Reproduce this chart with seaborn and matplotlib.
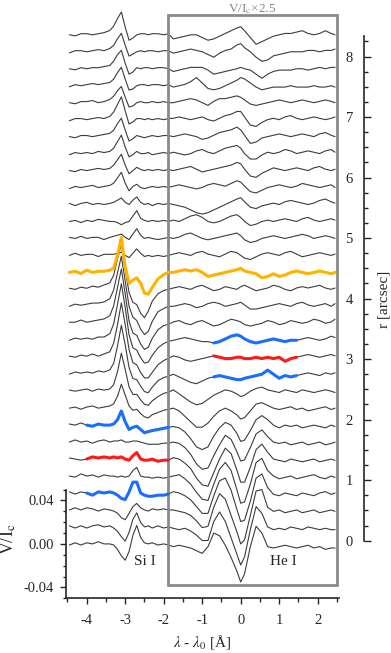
import matplotlib
matplotlib.use("Agg")
import matplotlib.pyplot as plt
from matplotlib.patches import Rectangle
from matplotlib.ticker import MultipleLocator, FixedLocator, FormatStrFormatter
import pandas as pd
import seaborn as sns

# wavelength samples, A from line centre
si_wave = [-4.45, -4.3, -4.15, -4.0, -3.85, -3.7, -3.55, -3.4, -3.3, -3.2, -3.1,
           -3.0, -2.9, -2.8, -2.7, -2.6, -2.5, -2.4, -2.3, -2.15, -2.0, -1.88]
he_wave = [-1.75, -1.6, -1.45, -1.3, -1.15, -1.0, -0.85, -0.7, -0.55, -0.4, -0.25,
           -0.1, 0.0, 0.1, 0.25, 0.4, 0.55, 0.7, 0.85, 1.0, 1.15, 1.3, 1.45, 1.6,
           1.75, 1.9, 2.05, 2.2, 2.35, 2.45]

# V/Ic x 1000, one row per slit position, from r ~ 0 (bottom) upwards
si_v = [
    [-1, 1, -1, 1, 0, 2, 0, 0, -1, -5, -11, -15, -7, 8, 17, 6, 1, 0, 1, -1, 0, -1],
    [1, -1, 1, -1, 1, 2, 0, 1, -1, -4, -9, -13, -5, 7, 13, 4, 0, 1, -1, 1, -1, 0],
    [0, 2, 0, 2, 1, -1, 1, 0, -1, -3, -7, -9, -3, 3, 6, 2, 0, -1, 1, 0, 1, 0],
    [1, -1, 1, 0, -2, 1, 0, 1, 0, -2, -5, -6, 1, 10, 10, 0, -2, -3, -3, -2, -2, -1],
    [0, -1, 2, 0, 1, -1, 1, 0, 0, -1, 0, -1, 0, 5, 8, 0, -1, -1, -2, -1, -2, -1],
    [1, 0, -1, 0, 2, 1, 2, 1, 2, 1, 2, 0, -1, 3, 6, 0, -1, -1, 0, -2, -1, -1],
    [0, 2, 0, 1, -1, 1, 2, 0, 1, 1, 2, 0, 0, 1, 1, 0, -1, -2, -2, -2, -1, -1],
    [1, 0, 2, 0, -1, 1, 0, 0, 1, 5, 13, 3, -4, -2, -1, -4, -7, -6, -5, -4, -3, -2],
    [0, 1, -1, 1, 2, 0, 1, 2, 4, 11, 22, 12, 2, -2, -1, -5, -8, -9, -6, -4, -2, -1],
    [1, 0, 1, 2, 0, 2, 1, 2, 6, 18, 35, 20, 4, -3, -3, -8, -12, -13, -9, -5, -2, -1],
    [0, 2, 1, 2, 1, 3, 2, 4, 10, 26, 45, 27, 6, -4, -5, -11, -16, -17, -12, -6, -3, -2],
    [1, 0, 2, 1, 3, 1, 3, 5, 13, 30, 50, 30, 7, -5, -7, -14, -19, -19, -14, -7, -3, -1],
    [0, 2, 1, 2, 1, 3, 3, 6, 15, 33, 52, 30, 5, -7, -9, -16, -21, -20, -14, -7, -3, -1],
    [1, 1, 3, 1, 2, 3, 4, 7, 16, 33, 50, 27, 2, -9, -11, -19, -24, -22, -14, -6, -2, -1],
    [0, 2, 1, 2, 3, 3, 4, 7, 15, 31, 46, 23, 0, -10, -13, -21, -26, -23, -14, -5, -2, 0],
    [1, 0, 2, 1, 3, 2, 4, 6, 13, 28, 42, 18, -3, -12, -14, -22, -26, -20, -11, -4, -1, 0],
    [0, 1, -1, 2, 0, 1, 1, 2, 4, 16, 32, 5, -10, -7, -5, -10, -19, -20, -14, -6, -2, 0],
    [0, 2, 0, 1, 1, -1, 1, 1, 1, 2, 3, 0, -2, 2, 6, 2, -1, 0, -1, 0, -1, 0],
    [1, 0, 2, 0, 1, 1, -1, 1, 2, 3, 4, 1, -1, 4, 9, 3, 0, 1, 0, -1, 0, 1],
    [0, 1, -1, 1, 0, 2, 1, 0, 0, -1, -3, -1, 0, 5, 10, 3, 1, 0, 1, 0, 1, 0],
    [1, -1, 1, 2, 0, 1, 0, 1, 2, 4, 6, 2, 0, 4, 7, 2, 0, 1, -1, 1, 0, 1],
    [-1, 1, 0, 1, 2, 0, 1, 2, 4, 9, 14, 4, -3, 1, 3, 0, -1, 0, 1, 0, 1, 0],
    [0, -1, 1, 0, 1, 2, 1, 2, 5, 10, 15, 5, -3, 0, 3, 1, 0, 1, 0, 1, 0, 1],
    [-1, 1, 0, 1, 0, 2, 1, 2, 5, 11, 17, 6, -3, -1, 2, 0, 0, 1, -1, 0, 1, 0],
    [0, -1, 1, 1, 0, 1, 2, 3, 6, 12, 17, 6, -4, -2, 1, 0, -1, 0, 1, 0, 1, 1],
    [-1, 1, 1, 0, 1, 2, 1, 3, 7, 14, 21, 8, -4, -2, 1, 1, 0, 1, 0, 1, 0, 1],
    [0, -1, 1, 1, 2, 0, 1, 3, 6, 11, 15, 5, -4, -3, 0, 1, 0, 0, 1, 0, 1, 0],
    [-1, 1, 0, 1, 2, 1, 2, 3, 6, 12, 17, 6, -4, -3, 0, 1, 1, 0, 1, 1, 0, 1],
    [0, -1, 1, 0, 1, 1, 2, 3, 7, 13, 17, 5, -5, -3, 1, 0, 1, 1, 0, 1, 1, 0],
    [-1, 1, 1, 0, 1, 2, 1, 3, 6, 12, 17, 6, -4, -2, 0, 1, 0, 1, 1, 0, 1, 1],
    [0, -1, 1, 1, 0, 1, 2, 4, 8, 15, 21, 7, -5, -3, 0, 1, 1, 0, 1, 1, 0, 1],
]

he_v = [
    [-1, -0.5, -1, -1.5, -2.5, -3.5, -1, 4, 3, -0.5, -5, -10, -14, -11, -1, 6.5, 4, -1, -1.5, -1, -0.5, -1, -1.5, -1, -0.5, -1.5, -1, -2, -1.5, -1.5],
    [-0.5, -1, -0.5, -1.5, -3, -5, -5, 2, 5.5, 2, -4, -10, -14, -11, -1, 7.5, 5, 0, -1, -0.5, -1, 0, -0.5, -1, 0, -0.5, -1, -0.5, -1, -1],
    [0, -0.5, -1, -2, -4, -6.5, -6, 1, 6, 4, -2, -8, -12.5, -11, -2, 7, 7.5, 1, -0.5, 0, -1, -0.5, 0, -1, -0.5, 0, -1, -0.5, 0, -0.5],
    [0.5, 0, -1, -2.5, -5, -7.5, -7.5, -1, 4.5, 5.5, 1, -6, -10.5, -10, -3, 5.5, 7, 2, -0.5, -1, 0, -0.5, -1, 0, -0.5, -1, 0, 0.5, -0.5, 0],
    [0, 0.5, -1, -3, -6, -8.5, -9, -3, 2.5, 5, 2, -5, -10, -9.5, -3, 5, 6.5, 2, 0, -1, -0.5, 0, -1, -0.5, 0, 0.5, -0.5, -1, 0, -0.5],
    [0.5, 0, -1.5, -3.5, -7, -9.5, -10, -5, 0, 4, 2, -4, -8.5, -8.5, -3, 3.5, 5.5, 2.5, 0, -0.5, -1, 0, -0.5, -1, -0.5, 0, -1, -0.5, 0, -0.5],
    [0, -0.5, -2, -4.5, -8, -10, -9.5, -5, -1, 2.5, 1, -3.5, -7, -6.5, -2, 3, 4.5, 2, 0, -0.5, 0, -1, -0.5, 0, -1, -0.5, 0, -1, -0.5, 0],
    [-0.5, -1, -2.5, -5, -8, -9, -8, -4, -1, 1, 0, -3, -6, -5.5, -2, 2, 3.5, 2, 0, -1, 0, -0.5, 0, -1, -0.5, 0, -0.5, -1, 0, -0.5],
    [0, -1, -3, -5, -7, -7, -5.5, -3, -1, 0, -1, -2.5, -4, -3.5, -1, 1.5, 2, 1, 0, -0.5, 0, 0.5, -0.5, 0, -1, -0.5, 0, 0.5, -0.5, 0],
    [0.5, -1, -2.5, -4, -5, -4.5, -3, -1.5, -0.5, 0.5, 0, -1, -2, -1.5, 0, 1, 1.5, 0.5, 0, -0.5, 0.5, 0, -0.5, 0.5, 0, -0.5, 0, 0.5, 0, -0.5],
    [0, -1, -2, -3, -3.5, -2.5, -1.5, -1, -0.5, -1, -1.5, -2, -2, -1.5, -1, -0.5, 0, 1.5, 0, -1.5, -0.5, -1, -0.5, 0, 0.5, 0, -0.5, 0.5, 0, 0.5],
    [0.5, 0, -1, -1.5, -1, -0.5, 0, 0.5, 0, -0.5, -0.5, 0, 0, -0.5, -0.5, 0, -0.5, 0, -0.5, 0, -1.5, -0.5, 0, 0.5, 1, 0.5, 0, 0.5, 1, 0.5],
    [0, 0.5, 1, 0.5, 0, -0.5, -0.5, -1, -0.5, 0.5, 1.5, 2, 1.5, 0.5, -0.5, -1, -0.5, 0, 0.5, 0, -0.5, 0, 0, 0.5, 1, 0.5, 0, 0.5, 1.5, 1],
    [0.5, 1, 0, -0.5, 0.5, 1, 0, -1, -0.5, 0.5, 1.5, 1, 0.5, -0.5, -1, -0.5, 0, 1, 0.5, -0.5, 0, 1, 0.5, 0, 0.5, 1.5, 1, 0, 0.5, 1.5],
    [0, 0.5, 1, 0.5, -0.5, 0, 1, 1.5, 1, 0, 0.5, 1, 1.5, 0.5, -1, -1, -0.5, 0, 0.5, 1, 0.5, 0, 1, 1.5, 0.5, 0, 0.5, 1, 0, 1],
    [0.5, 1, 0.5, 0, 1, 1.5, 0.5, -0.5, 0, 1, 0.5, 0, 1, 1.5, 0.5, -0.5, 0, 0.5, 1.5, 1, 0, -0.5, 0.5, 1, 0.5, 1, 1.5, 0.5, 0, 0.5],
    [0, 0.5, 1, 0.5, 1, 0, -1.5, -1, -0.5, 0, 0.5, 1, 1.5, 0.5, 0, -0.5, -2, -1.5, -0.5, -1.5, -1, 0, 0.5, 0, -0.5, 0, 0.5, 0, -0.5, 0],
    [0.5, 1, 0.5, 0, 1, 1.5, 0.5, 0, -0.5, 0.5, 1.5, 1, 0, -1, -1.5, -0.5, 0.5, 1, 0.5, 0, 1, 1.5, 0.5, -0.5, 0, 0.5, 1, 0.5, 0, 0.5],
    [0, 0.5, 1.5, 2, 1, 0, -0.5, 0, 0.5, 1, 1.5, 2, 1, -0.5, -1.5, -1, 0, 0.5, 1, 0.5, 0, 0.5, 1, 1.5, 1, 0, 0.5, 1, 0.5, 0],
    [0.5, 0, 1, 2, 2.5, 1.5, 0, -0.5, 0, 1, 2, 2.5, 1.5, 0, -1.5, -1, 0, 0.5, 0, 0.5, 1, 0.5, 0, 1, 1.5, 0.5, 0, 0.5, 1, 0.5],
    [0, -0.5, -1, -2, -3, -3.5, -3, -2, -1, 0, 1, 2, 2.5, 1, -1, -1.5, -0.5, 0, 0.5, 0, 1, 1.5, 1, 0.5, 0, 0.5, 1.5, 2, 1, 0.5],
    [0.5, 1, 0.5, 0, -0.5, 0, 1, 1.5, 1, 0.5, 1.5, 2.5, 2, 0.5, -1.5, -2, -1, 0, 0.5, 1, 0.5, 0, 0.5, 1.5, 1, 0.5, 0, 0.5, 1, 0],
    [0, 0.5, 1, 1.5, 0.5, -0.5, 0, 0.5, 1, 1.5, 2, 3, 2.5, 0.5, -2, -2.5, -1, 0, 1, 0.5, 0, 0.5, 1, 0.5, 0, 1, 1.5, 0.5, 0, 0.5],
    [0.5, 0, -0.5, 0, 1, 1.5, 0.5, 0, 1, 2, 2.5, 3, 2, 0, -2, -2, -0.5, 0.5, 0, 0.5, 1.5, 1, 0, 0.5, 1, 0.5, 0, 1, 1.5, 0.5],
    [0, 0.5, 1, 0.5, 0, -1, -0.5, 0.5, 1.5, 2, 2.5, 3.5, 2.5, 0.5, -2.5, -2, -0.5, 0, 0.5, 1, 0.5, 0, 0.5, 1, 0.5, 0, 1, 1.5, 0.5, 0],
    [0.5, 1, 0.5, 0, 0.5, 1, 0, -0.5, 0.5, 1.5, 2, 3, 3, 1, -2, -2.5, -1, 0, 0.5, 0, 1, 1.5, 0.5, 0, 0.5, 1, 0.5, 0, 0.5, 1],
    [0, 0.5, 1, 1.5, 1, 0, -1, 0.5, 1.5, 1.5, 2, 2.5, 2, 1, -0.5, -1, -0.5, 0, 0.5, 1, 0.5, 0, 0.5, 1, 0.5, 0, 0.5, 1, 0.5, 0],
    [-0.5, 0, 0.5, 1.5, 3, 1, -1, -1.5, -1, 0, 1, 2, 3, 2.5, 1, -0.5, -1.5, -1, -0.5, -0.5, -0.5, 0, -0.5, -0.5, -0.5, 0, -0.5, -0.5, 0, -0.5],
    [-1, -0.5, 0, 0.5, 0.5, 0.5, -0.5, -2, -1.5, -1, -0.5, 0, 0.5, 0, -0.5, -2, -3.5, -2, -1, -0.5, -0.5, -0.5, 0, 0, -0.5, 0, 0.5, 0, 0.5, 0.5],
    [-0.5, 0, 0.5, 1, 0.5, 0, -1, -2, -0.5, 0.5, 1, 2.5, 3, 1.5, 0, -2, -3.5, -3, -1.5, -1, -0.5, 0, 0, 0, 0.5, 0.5, 0, 0.5, 0.5, 1],
    [-1.5, -1, -0.5, 0, 0, -1, -2, -1.5, -0.5, 0.5, 1.5, 2.5, 3, 1.5, -1, -3.5, -2.5, -1.5, -0.5, 0, 0.5, 0.5, 1, 1.5, 0.5, 0, 0.5, 1.5, 0.5, 0],
]

r_ticks = [0, 1, 2, 3, 4, 5, 6, 7, 8]
r_minor = [k / 4 for k in range(1, 34) if k % 4]
v_ticks = [-0.04, 0.0, 0.04]
v_minor = [-0.05, -0.03, -0.02, -0.01, 0.01, 0.02, 0.03, 0.05]
orange_row = 16
si_marked = {3: "#1a6dff", 5: "#ff1a1a", 7: "#1a6dff"}
he_marked = {10: "#1a6dff", 11: "#ff1a1a", 12: "#1a6dff"}

gap = 0.0156        # V/Ic between neighbouring profiles
he_gain = 2.5       # He I part drawn x2.5
r_per_v = 0.05563   # V/Ic per arcsec on the right axis
r_zero = 0.003

rows = []
for i in range(len(si_v)):
    for x, v in zip(si_wave, si_v[i]):
        rows.append((i, "si", x, i * gap + v * 1e-3))
    for x, v in zip(he_wave, he_v[i]):
        rows.append((i, "he", x, i * gap + v * he_gain * 1e-3))
df = pd.DataFrame(rows, columns=["row", "part", "wave", "y"])

sns.set_style("ticks")
plt.rcParams["font.family"] = ["Liberation Serif", "DejaVu Serif"]
plt.rcParams["mathtext.fontset"] = "stix"
plt.rcParams["axes.unicode_minus"] = False

fig = plt.figure(figsize=(3.91, 6.53), dpi=100)
ax = fig.add_axes([66 / 391, 54.7 / 653, 273 / 391, 598.3 / 653])
ax.patch.set_visible(False)

sns.lineplot(data=df, x="wave", y="y", units="row", estimator=None, sort=False,
             color="#3c3c3c", lw=0.8, ax=ax, legend=False, zorder=2)

box = Rectangle((-1.888, -0.0374), 2.494 + 1.888, 0.4858 + 0.0374, fill=False,
                edgecolor="#8a8a8a", lw=2.0, zorder=3)
ax.add_patch(box)

sel = df[df["row"] == orange_row]
sns.lineplot(data=sel, x="wave", y="y", estimator=None, sort=False, color="#ffb300",
             lw=2.2, ax=ax, legend=False, zorder=4)
for r, c in si_marked.items():
    sel = df[(df["row"] == r) & (df["part"] == "si") & (df["wave"] >= -4.0)]
    sns.lineplot(data=sel, x="wave", y="y", estimator=None, sort=False, color=c,
                 lw=2.2, ax=ax, legend=False, zorder=4)
for r, c in he_marked.items():
    sel = df[(df["row"] == r) & (df["part"] == "he") & (df["wave"] >= -0.75) & (df["wave"] <= 1.5)]
    sns.lineplot(data=sel, x="wave", y="y", estimator=None, sort=False, color=c,
                 lw=2.2, ax=ax, legend=False, zorder=4)

ax.set_xlim(-4.538, 2.553)
ax.set_ylim(-0.05, 0.5)
for s in ["top", "right"]:
    ax.spines[s].set_visible(False)
ax.spines["left"].set_bounds(-0.05, 0.05)
ax.spines["left"].set_linewidth(1.2)
ax.spines["bottom"].set_linewidth(1.2)

ax.xaxis.set_major_locator(MultipleLocator(1))
ax.xaxis.set_minor_locator(MultipleLocator(0.5))
ax.yaxis.set_major_locator(FixedLocator(v_ticks))
ax.yaxis.set_minor_locator(FixedLocator(v_minor))
ax.yaxis.set_major_formatter(FormatStrFormatter("%.2f"))
ax.tick_params(axis="x", which="major", length=4, width=1.0, pad=7, labelsize=10.5)
ax.tick_params(axis="x", which="minor", length=3, width=1.0)
ax.tick_params(axis="y", which="major", length=4.5, width=1.0, pad=4, labelsize=10.5)
ax.tick_params(axis="y", which="minor", length=2.4, width=1.0)

ax.set_xlabel(r"$\lambda$ - $\lambda_0$ [Å]", fontsize=11)
ax.xaxis.set_label_coords(0.5, -0.058)
ax.set_ylabel(r"V/I$_\mathrm{c}$", fontsize=13)
ax.yaxis.set_label_coords(-0.176, 0.099)

ax.text(0.3, 0.4918, r"V/I$_\mathrm{c}$×2.5", color="#8a8a8a", fontsize=9.5,
        ha="center", va="center", clip_on=False)
ax.text(-2.5, -0.016, "Si I", fontsize=11, ha="center", va="center")
ax.text(1.107, -0.016, "He I", fontsize=11, ha="center", va="center")

# right-hand slit position axis
ax2 = fig.add_axes(ax.get_position())
ax2.patch.set_visible(False)
ax2.set_ylim((-0.05 - r_zero) / r_per_v, (0.5 - r_zero) / r_per_v)
ax2.set_xticks([])
for s in ["top", "right", "bottom"]:
    ax2.spines[s].set_visible(False)
ax2.spines["left"].set_position(("axes", 1.0916))
ax2.spines["left"].set_bounds(0, 8.34)
ax2.spines["left"].set_linewidth(1.2)
ax2.yaxis.set_major_locator(FixedLocator(r_ticks))
ax2.yaxis.set_minor_locator(FixedLocator(r_minor))
ax2.tick_params(axis="y", which="major", direction="in", length=5, width=1.0,
                pad=8, labelsize=10.5)
ax2.tick_params(axis="y", which="minor", direction="in", length=3, width=1.0)
ax2.set_ylabel("r [arcsec]", fontsize=11)
ax2.yaxis.set_label_position("right")
ax2.yaxis.set_label_coords(1.14, 0.5)

fig.savefig("out.png", dpi=100)
